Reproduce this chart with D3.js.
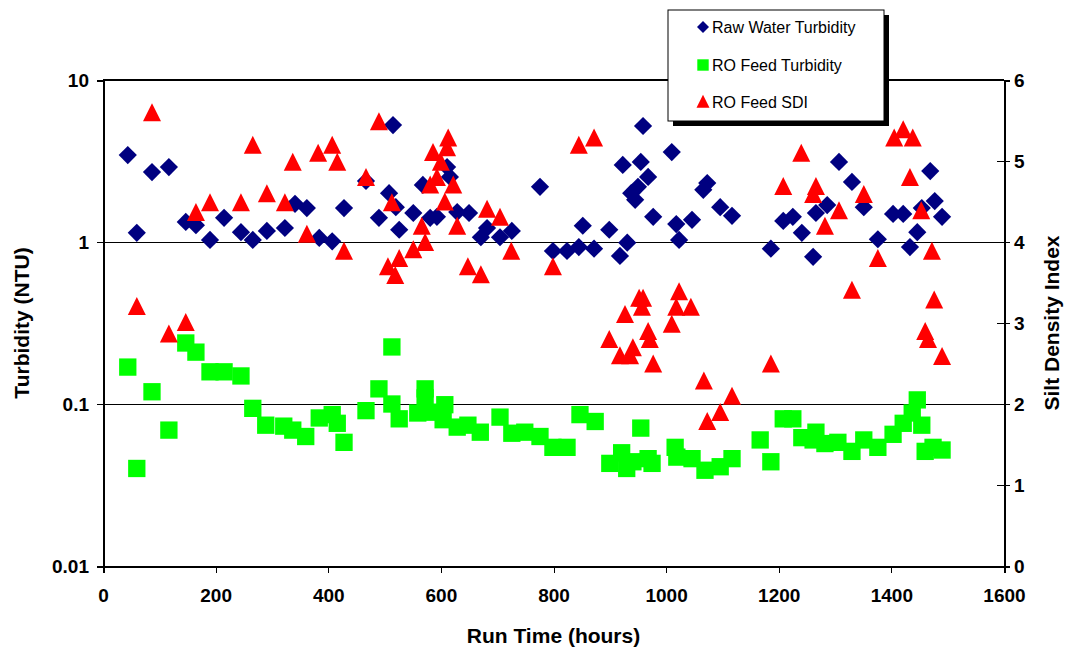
<!DOCTYPE html>
<meta charset="utf-8">
<style>
body { margin: 0; background: #fff; }
svg { font-family: "Liberation Sans", Arial, sans-serif; }
.tick text { font-weight: bold; font-size: 19px; fill: #000; }
.axis path, .axis line { stroke: #000; shape-rendering: crispEdges; }
.title { font-weight: bold; font-size: 21px; fill: #000; }
.legend text { font-size: 16px; fill: #000; }
</style>
<body>
<div id="chart"></div>
<script src="https://d3js.org/d3.v7.min.js"></script>
<script>

// run time (hours) and turbidity (NTU) for raw water
var rawHours = [44, 60, 87, 117, 147, 165, 190, 215, 245, 266, 291, 323, 341, 362, 384, 407, 428, 467, 490, 508,
                515, 520, 526, 551, 568, 581, 593, 611, 616, 629, 650, 671, 682, 705, 726, 776, 799, 824, 845, 852,
                872, 899, 918, 931, 923, 938, 945, 950, 955, 959, 968, 977, 1010, 1018, 1023, 1046, 1066, 1073, 1096, 1117,
                1186, 1208, 1225, 1241, 1261, 1266, 1286, 1307, 1330, 1351, 1376, 1403, 1421, 1433, 1446, 1454, 1469, 1477, 1490];
var rawNTU = [3.44, 1.14, 2.70, 2.90, 1.33, 1.27, 1.03, 1.41, 1.15, 1.03, 1.17, 1.22, 1.72, 1.62, 1.06, 1.01, 1.62, 2.38, 1.41, 2.0,
              5.27, 1.64, 1.19, 1.51, 2.25, 1.41, 1.43, 2.90, 2.52, 1.53, 1.51, 1.07, 1.22, 1.07, 1.17, 2.19, 0.88, 0.88, 0.93, 1.26,
              0.91, 1.19, 0.82, 0.99, 2.99, 2.0, 1.82, 2.19, 3.12, 5.2, 2.52, 1.43, 3.59, 1.29, 1.03, 1.37, 2.10, 2.31, 1.64, 1.45,
              0.91, 1.35, 1.43, 1.14, 0.81, 1.51, 1.69, 3.12, 2.35, 1.64, 1.04, 1.49, 1.49, 0.93, 1.15, 1.62, 2.74, 1.79, 1.43];

// RO feed turbidity (NTU)
var feedHours = [44, 60, 87, 117, 147, 165, 190, 215, 245, 266, 289, 321, 337, 360, 384, 407, 416, 428, 467, 490,
                 513, 513, 526, 559, 572, 572, 586, 604, 607, 629, 648, 670, 705, 726, 749, 776, 799, 824, 847, 874,
                 900, 921, 930, 941, 955, 968, 975, 1016, 1019, 1046, 1069, 1096, 1117, 1167, 1186, 1208, 1225, 1241, 1261, 1266,
                 1282, 1305, 1330, 1351, 1376, 1403, 1421, 1437, 1446, 1454, 1460, 1474, 1490];
var feedNTU = [0.169, 0.040, 0.119, 0.069, 0.238, 0.209, 0.158, 0.158, 0.149, 0.094, 0.074, 0.073, 0.069, 0.063, 0.082, 0.086, 0.076, 0.058, 0.091, 0.124,
               0.225, 0.100, 0.081, 0.088, 0.124, 0.109, 0.089, 0.080, 0.099, 0.072, 0.074, 0.067, 0.083, 0.066, 0.067, 0.063, 0.054, 0.054, 0.086, 0.078,
               0.043, 0.050, 0.040, 0.044, 0.071, 0.046, 0.043, 0.054, 0.047, 0.046, 0.039, 0.041, 0.046, 0.060, 0.044, 0.081, 0.081, 0.062, 0.060, 0.067,
               0.057, 0.058, 0.051, 0.060, 0.054, 0.065, 0.076, 0.088, 0.106, 0.074, 0.051, 0.054, 0.052];

// RO feed silt density index
var sdiHours = [60, 87, 117, 147, 165, 190, 245, 266, 291, 323, 337, 362, 382, 407, 416, 428, 467, 490, 506, 513,
                519, 526, 551, 566, 572, 581, 586, 593, 600, 607, 611, 613, 622, 629, 648, 671, 682, 705, 725, 799,
                845, 872, 899, 918, 927, 936, 941, 952, 959, 957, 968, 971, 977, 1010, 1018, 1023, 1044, 1067, 1073, 1096,
                1117, 1186, 1208, 1240, 1261, 1266, 1282, 1307, 1330, 1351, 1376, 1405, 1421, 1438, 1433, 1453, 1460, 1465, 1472, 1476, 1490];
var sdiValues = [3.20, 5.59, 2.86, 3.00, 4.36, 4.48, 4.48, 5.19, 4.59, 4.48, 4.98, 4.09, 5.09, 5.19, 4.98, 3.88, 4.79, 5.48, 3.69, 4.48,
                 3.58, 3.79, 3.90, 4.19, 3.99, 4.70, 5.10, 4.79, 4.98, 4.49, 5.16, 5.28, 4.70, 4.19, 3.69, 3.59, 4.40, 4.30, 3.88, 3.69,
                 5.19, 5.28, 2.79, 2.59, 3.10, 2.59, 2.69, 3.30, 3.30, 3.19, 2.89, 2.79, 2.49, 2.98, 3.19, 3.38, 3.19, 2.28, 1.78, 1.89,
                 2.09, 2.49, 4.68, 5.09, 4.58, 4.68, 4.19, 4.38, 3.40, 4.58, 3.79, 5.28, 5.38, 5.28, 4.79, 4.38, 2.89, 2.79, 3.88, 3.28, 2.58];

var xTicks = [0, 200, 400, 600, 800, 1000, 1200, 1400, 1600];
var yTicks = [0.01, 0.1, 1, 10];
var sdiTicks = [0, 1, 2, 3, 4, 5, 6];
var seriesNames = ["Raw Water Turbidity", "RO Feed Turbidity", "RO Feed SDI"];

var WIDTH = 1065, HEIGHT = 649;
var LEFT = 103, RIGHT = 1004, TOP = 80, BOTTOM = 566;
var NAVY = '#000080', GREEN = '#00ff00', RED = '#ff0000';

var svg = d3.select('#chart').append('svg')
    .attr('width', WIDTH)
    .attr('height', HEIGHT);

var x = d3.scaleLinear().domain([0, 1600]).range([LEFT, RIGHT]);
var y = d3.scaleLog().domain([0.01, 10]).range([BOTTOM, TOP]);
var y2 = d3.scaleLinear().domain([0, 6]).range([BOTTOM, TOP]);

// gridlines at 0.1 and 1
svg.selectAll('.grid')
  .data([0.1, 1])
  .enter().append('line')
    .attr('x1', LEFT).attr('x2', RIGHT)
    .attr('y1', function(d) { return Math.round(y(d)) + 0.5; })
    .attr('y2', function(d) { return Math.round(y(d)) + 0.5; })
    .attr('stroke', '#000')
    .attr('stroke-width', 1);

// top border of plot area
svg.append('line')
    .attr('x1', LEFT).attr('x2', RIGHT)
    .attr('y1', TOP).attr('y2', TOP)
    .attr('stroke', '#000').attr('stroke-width', 2);

var xAxis = svg.append('g')
    .attr('class', 'axis')
    .attr('transform', 'translate(0,' + BOTTOM + ')')
    .call(d3.axisBottom(x).tickValues(xTicks).tickSize(7).tickPadding(16).tickFormat(d3.format('d')));
xAxis.select('.domain').attr('stroke-width', 2);

var yAxis = svg.append('g')
    .attr('class', 'axis')
    .attr('transform', 'translate(' + LEFT + ',0)')
    .call(d3.axisLeft(y).tickValues(yTicks).tickSize(6).tickPadding(8)
          .tickFormat(function(d) { return String(d); }));
yAxis.select('.domain').attr('stroke-width', 2);

var y2Axis = svg.append('g')
    .attr('class', 'axis')
    .attr('transform', 'translate(' + RIGHT + ',0)')
    .call(d3.axisRight(y2).tickValues(sdiTicks).tickSize(6).tickPadding(4).tickFormat(d3.format('d')));
y2Axis.select('.domain').attr('stroke-width', 2);
y2Axis.selectAll('.tick line').attr('x1', -7);

// markers
var diamond = d3.symbol().type(d3.symbolSquare).size(166);
var square = d3.symbol().type(d3.symbolSquare).size(300);
var triangle = function(s) {
  return 'M0,' + (-s * 0.55) + 'L' + (s / 2) + ',' + (s * 0.45) + 'L' + (-s / 2) + ',' + (s * 0.45) + 'Z';
};

svg.append('g').selectAll('path')
  .data(d3.range(rawHours.length))
  .enter().append('path')
    .attr('d', diamond)
    .attr('transform', function(i) {
      return 'translate(' + x(rawHours[i]) + ',' + y(rawNTU[i]) + ') rotate(45)';
    })
    .attr('fill', NAVY);

svg.append('g').selectAll('path')
  .data(d3.range(feedHours.length))
  .enter().append('path')
    .attr('d', square)
    .attr('transform', function(i) {
      return 'translate(' + x(feedHours[i]) + ',' + y(feedNTU[i]) + ')';
    })
    .attr('fill', GREEN);

svg.append('g').selectAll('path')
  .data(d3.range(sdiHours.length))
  .enter().append('path')
    .attr('d', triangle(18))
    .attr('transform', function(i) {
      return 'translate(' + x(sdiHours[i]) + ',' + y2(sdiValues[i]) + ')';
    })
    .attr('fill', RED);

// axis titles
svg.append('text')
    .attr('class', 'title')
    .attr('text-anchor', 'middle')
    .attr('transform', 'translate(29,' + ((TOP + BOTTOM) / 2) + ') rotate(-90)')
    .text('Turbidity (NTU)');
svg.append('text')
    .attr('class', 'title')
    .attr('text-anchor', 'middle')
    .attr('transform', 'translate(1059,' + ((TOP + BOTTOM) / 2) + ') rotate(-90)')
    .text('Silt Density Index');
svg.append('text')
    .attr('class', 'title')
    .attr('text-anchor', 'middle')
    .attr('x', (LEFT + RIGHT) / 2)
    .attr('y', 643)
    .text('Run Time (hours)');

// legend
var legend = svg.append('g').attr('class', 'legend');
legend.append('rect')
    .attr('x', 673).attr('y', 15).attr('width', 216).attr('height', 111)
    .attr('fill', '#000');
legend.append('rect')
    .attr('x', 668).attr('y', 10).attr('width', 216).attr('height', 111)
    .attr('fill', '#fff').attr('stroke', '#000').attr('stroke-width', 1);
var legendRows = [27, 65, 102];
var legendMarks = [
  function(g) { g.append('path').attr('d', d3.symbol().type(d3.symbolSquare).size(72)).attr('transform', 'rotate(45)').attr('fill', NAVY); },
  function(g) { g.append('path').attr('d', d3.symbol().type(d3.symbolSquare).size(130)).attr('fill', GREEN); },
  function(g) { g.append('path').attr('d', triangle(13)).attr('fill', RED); }
];
seriesNames.forEach(function(name, i) {
  var g = legend.append('g').attr('transform', 'translate(703,' + legendRows[i] + ')');
  legendMarks[i](g);
  legend.append('text')
      .attr('x', 712)
      .attr('y', legendRows[i])
      .attr('dy', '0.35em')
      .text(name);
});

</script>
</body>
